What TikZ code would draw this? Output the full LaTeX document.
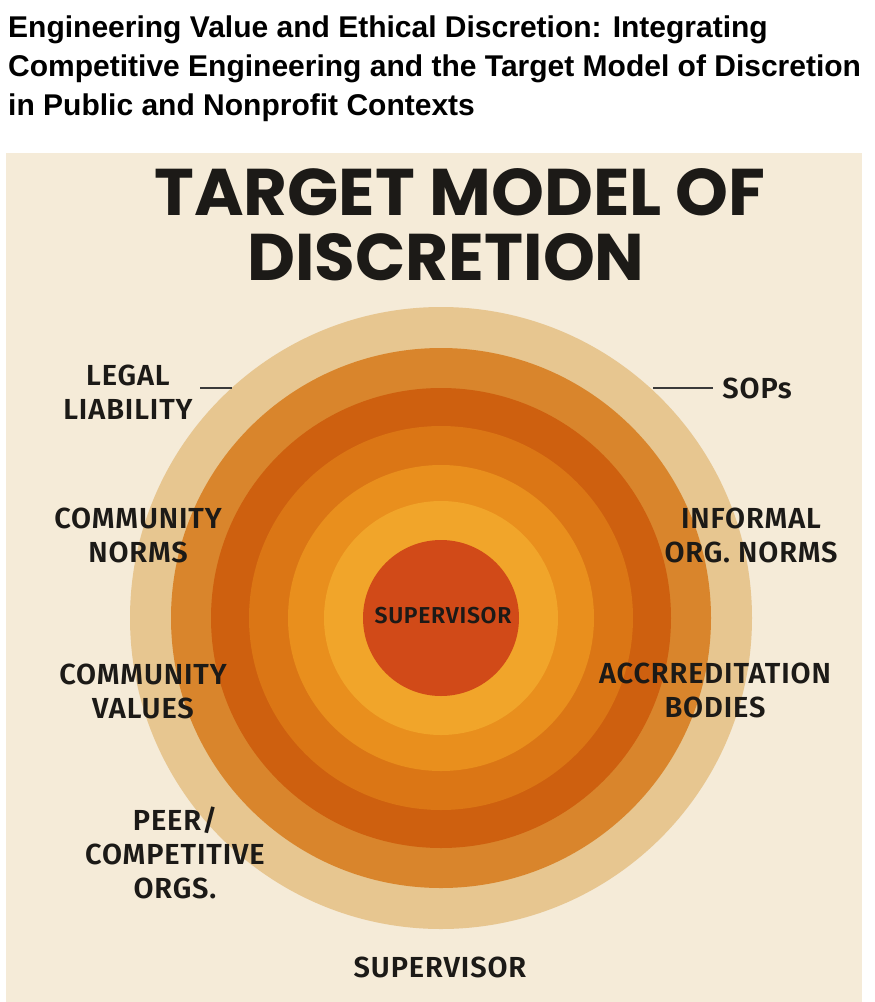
\documentclass[tikz,border=0pt]{standalone}
\usepackage{fontspec}
\setmainfont{Liberation Sans}
\newfontfamily\headfont{Liberation Sans}
\newfontfamily\titlefont{Poppins}
\newfontfamily\labfont{Fira Sans}[LetterSpace=3, BoldFont={Fira Sans SemiBold}]
\definecolor{panelbg}{HTML}{F5EBD8}
\definecolor{ringA}{HTML}{E7C690}
\definecolor{ringB}{HTML}{D9852C}
\definecolor{ringC}{HTML}{CE600F}
\definecolor{ringD}{HTML}{DB7615}
\definecolor{ringE}{HTML}{E98F1D}
\definecolor{ringF}{HTML}{F1A52A}
\definecolor{core}{HTML}{D14A18}
\definecolor{ink}{HTML}{1C1A17}
\definecolor{tick}{HTML}{3A3A3A}
\tikzset{
  headline/.style={anchor=base west, inner sep=0pt, font=\headfont\bfseries\fontsize{30}{39}\selectfont, text=black},
  bigtitle/.style={anchor=base, inner sep=0pt, font=\titlefont\bfseries\fontsize{66}{66}\selectfont, text=ink},
  lab/.style={align=center, inner sep=0pt, font=\labfont\bfseries\fontsize{29}{34}\selectfont, text=ink},
  ring/.style={circle, draw=none, inner sep=0pt},
  tickline/.style={draw=tick, line width=2pt}
}
\begin{document}
\begin{tikzpicture}[x=1pt,y=-1pt]
\useasboundingbox (0,0) rectangle (875,1002);
\fill[white] (0,0) rectangle (875,1002);
\fill[panelbg] (6,153) rectangle (862,1002);
% header
\node[headline] (h1) at (8,37) {Engineering Value and Ethical Discretion: Integrating};
\node[headline] (h2) at (8,76) {Competitive Engineering and the Target Model of Discretion};
\node[headline] (h3) at (8,115) {in Public and Nonprofit Contexts};
% big title
\node[bigtitle, xscale=1.02] (t1) at (460,215) {TARGET MODEL OF};
\node[bigtitle] (t2) at (446,280) {DISCRETION};
% rings
\coordinate (c) at (441,618);
\node[ring, fill=ringA, minimum size=622pt] (r1) at (c) {};
\node[ring, fill=ringB, minimum size=540pt] (r2) at (c) {};
\node[ring, fill=ringC, minimum size=460pt] (r3) at (c) {};
\node[ring, fill=ringD, minimum size=384pt] (r4) at (c) {};
\node[ring, fill=ringE, minimum size=306pt] (r5) at (c) {};
\node[ring, fill=ringF, minimum size=234pt] (r6) at (c) {};
\node[ring, fill=core, minimum size=156pt] (r7) at (c) {};
\node[lab, anchor=base, font=\labfont\bfseries\fontsize{23}{26}\selectfont] (sup) at (443,623) {SUPERVISOR};
% labels
\node[lab] (legal) at (128,392) {LEGAL\\LIABILITY};
\node[lab] (cnorms) at (138,535) {COMMUNITY\\NORMS};
\node[lab] (cvalues) at (143,691) {COMMUNITY\\VALUES};
\node[lab] (peer) at (175,853) {PEER/\\COMPETITIVE\\ORGS.};
\node[lab, anchor=base] (sops) at (757,398.5) {SOPs};
\node[lab] (inorms) at (751,535) {INFORMAL\\ORG. NORMS};
\node[lab] (accr) at (715,690.5) {ACCRREDITATION\\BODIES};
\node[lab, anchor=base] (supb) at (440,977.5) {SUPERVISOR};
% ticks
\coordinate (la) at (200,388);
\coordinate (lb) at (232,388);
\coordinate (sa) at (653,388);
\coordinate (sb) at (713,388);
\draw[tickline] (la) -- (lb);
\draw[tickline] (sa) -- (sb);
\end{tikzpicture}
\end{document}
